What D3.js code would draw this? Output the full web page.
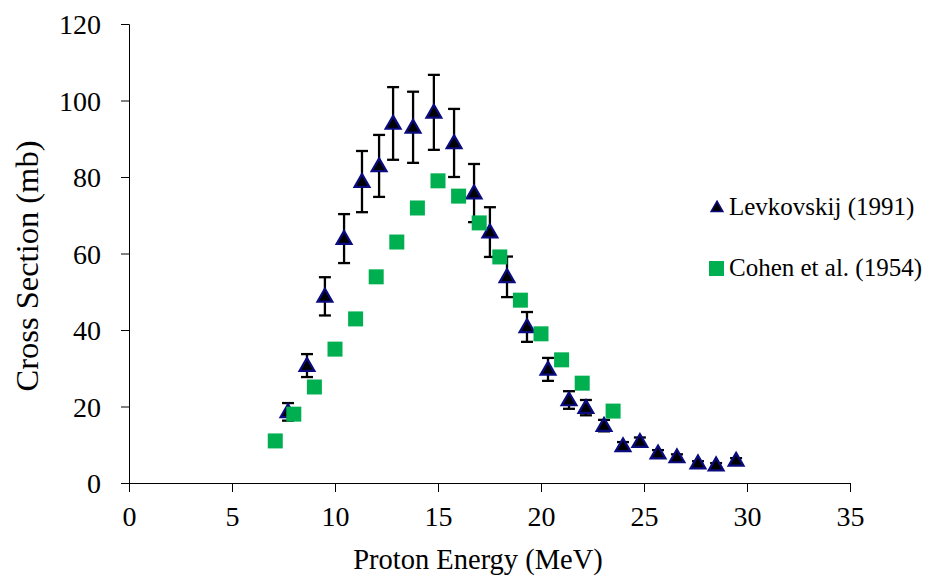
<!DOCTYPE html>
<html>
<head>
<meta charset="utf-8">
<script src="https://cdn.jsdelivr.net/npm/d3@7"></script>
<style>
  body { margin: 0; background: #fff; }
</style>
</head>
<body>
<svg id="chart" width="939" height="580"></svg>
<script>
// Levkovskij (1991)
const levkEnergy = [7.72, 8.64, 9.51, 10.44, 11.31, 12.14, 12.82, 13.79, 14.8, 15.78, 16.75, 17.52, 18.35,
  19.32, 20.34, 21.36, 22.18, 23.06, 23.98, 24.8, 25.68, 26.6, 27.62, 28.5, 29.47];
const levkXS = [18.6, 30.7, 48.8, 63.9, 78.8, 82.9, 94.0, 93.0, 96.9, 88.9, 75.8, 65.6, 53.9,
  40.8, 29.7, 21.7, 19.7, 15.0, 9.7, 10.8, 7.8, 6.8, 5.2, 4.7, 5.9];
const levkErr = [2.3, 3.0, 5.0, 6.4, 8.0, 8.1, 9.5, 9.3, 9.8, 8.9, 7.6, 6.5, 5.3,
  3.9, 3.0, 2.3, 2.0, 1.5, 1.0, 1.1, 0.8, 0.7, 0.5, 0.5, 0.6];

// Cohen et al. (1954)
const cohenEnergy = [7.1, 8, 9, 10, 11, 12, 13, 14, 15, 16, 17, 18, 19, 20, 21, 22, 23.5];
const cohenXS = [11, 18, 25.1, 35, 42.9, 53.9, 63, 71.9, 79, 75, 68, 59.1, 47.8, 39, 32.2, 26.1, 18.8];

const xTicks = [0, 5, 10, 15, 20, 25, 30, 35];
const yTicks = [0, 20, 40, 60, 80, 100, 120];
const seriesNames = ['Levkovskij (1991)', 'Cohen et al. (1954)'];

const FONT = "'Liberation Serif', 'Times New Roman', 'DejaVu Serif', serif";

const svg = d3.select('#chart');
const margin = {top: 24, right: 89, bottom: 97, left: 129};
const width = 939 - margin.left - margin.right;
const height = 580 - margin.top - margin.bottom;

const x = d3.scaleLinear().domain([0, 35]).range([0, width]);
const y = d3.scaleLinear().domain([0, 120]).range([height, 0]);

const chart = svg.append('g')
  .attr('transform', 'translate(' + margin.left + ',' + margin.top + ')');

const xAxis = d3.axisBottom(x).tickValues(xTicks).tickSize(9).tickPadding(14).tickFormat(d3.format('d'));
const yAxis = d3.axisLeft(y).tickValues(yTicks).tickSize(8).tickPadding(20).tickFormat(d3.format('d'));

const gx = chart.append('g')
  .attr('transform', 'translate(0,' + height + ')')
  .call(xAxis);
const gy = chart.append('g').call(yAxis);

[gx, gy].forEach(g => {
  g.attr('font-family', FONT).attr('font-size', 28);
  g.selectAll('path, line').attr('stroke', '#000').attr('stroke-width', 1);
  g.selectAll('text').attr('fill', '#000');
});
gx.selectAll('text').attr('dy', '0.71em');
gy.selectAll('text').attr('dy', '0.34em');

// axis titles
svg.append('text')
  .attr('x', 478).attr('y', 569)
  .attr('text-anchor', 'middle')
  .attr('font-family', FONT)
  .attr('font-size', 28.5)
  .text('Proton Energy (MeV)');

svg.append('text')
  .attr('transform', 'translate(38,266) rotate(-90)')
  .attr('text-anchor', 'middle')
  .attr('font-family', FONT)
  .attr('font-size', 32.5)
  .text('Cross Section (mb)');

const levk = levkEnergy.map((e, i) => ({e: e, v: levkXS[i], err: levkErr[i]}));
const cohen = cohenEnergy.map((e, i) => ({e: e, v: cohenXS[i]}));

const tri = d3.symbol().type(d3.symbolTriangle).size(95);
const sq = d3.symbol().type(d3.symbolSquare).size(225);

// error bars
const bars = chart.append('g').selectAll('g')
  .data(levk)
  .enter().append('g')
  .attr('stroke', '#000')
  .attr('stroke-width', 2.3);

bars.append('line')
  .attr('x1', d => x(d.e)).attr('x2', d => x(d.e))
  .attr('y1', d => y(d.v + d.err)).attr('y2', d => y(d.v - d.err));
bars.append('line')
  .attr('x1', d => x(d.e) - 6).attr('x2', d => x(d.e) + 6)
  .attr('y1', d => y(d.v + d.err)).attr('y2', d => y(d.v + d.err));
bars.append('line')
  .attr('x1', d => x(d.e) - 6).attr('x2', d => x(d.e) + 6)
  .attr('y1', d => y(d.v - d.err)).attr('y2', d => y(d.v - d.err));

chart.append('g').selectAll('path')
  .data(levk)
  .enter().append('path')
  .attr('d', tri)
  .attr('transform', d => 'translate(' + x(d.e) + ',' + (y(d.v) + 1) + ')')
  .attr('fill', '#000')
  .attr('stroke', '#0b0b80')
  .attr('stroke-width', 2.2)
  .attr('stroke-linejoin', 'miter');

chart.append('g').selectAll('path')
  .data(cohen)
  .enter().append('path')
  .attr('d', sq)
  .attr('transform', d => 'translate(' + x(d.e) + ',' + y(d.v) + ')')
  .attr('fill', '#00b050');

// legend
const legend = svg.append('g');
legend.append('path')
  .attr('d', d3.symbol().type(d3.symbolTriangle).size(60))
  .attr('transform', 'translate(717,208)')
  .attr('fill', '#000').attr('stroke', '#0b0b80').attr('stroke-width', 1.5);
legend.append('rect')
  .attr('x', 709).attr('y', 261).attr('width', 15).attr('height', 15)
  .attr('fill', '#00b050');
legend.selectAll('text')
  .data(seriesNames)
  .enter().append('text')
  .attr('x', 729)
  .attr('y', (d, i) => 215 + i * 61)
  .attr('font-family', FONT)
  .attr('font-size', 25)
  .text(d => d);
</script>
</body>
</html>
